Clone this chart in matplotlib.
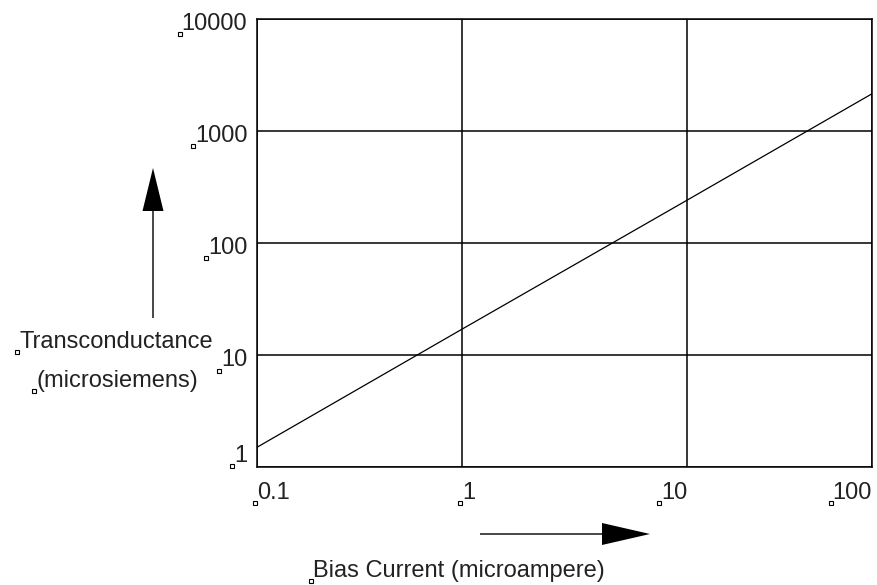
import numpy as np
import matplotlib
matplotlib.use("Agg")
import matplotlib.pyplot as plt
from matplotlib.patches import FancyArrow
from matplotlib.transforms import ScaledTranslation

# ---- data ----
bias_current = [0.1, 1, 10, 100]            # microampere
transconductance = [1.5, 17, 241, 2150]     # microsiemens
x_ticks = [0.1, 1, 10, 100]
x_tick_labels = ["0.1", "1", "10", "100"]
y_ticks = [1, 10, 100, 1000, 10000]
y_tick_labels = ["1", "10", "100", "1000", "10000"]
x_label = "Bias Current (microampere)"
y_label_lines = ["Transconductance", "(microsiemens)"]

# the reference x axis has uneven decade widths
decade_log = [-1, 0, 1, 2]
decade_frac = [0.0, 0.3333, 0.6992, 1.0]

def fwd(x):
    x = np.asarray(x, dtype=float)
    with np.errstate(divide="ignore", invalid="ignore"):
        lx = np.log10(np.clip(x, 1e-12, None))
    return np.interp(lx, decade_log, decade_frac)

def inv(v):
    v = np.asarray(v, dtype=float)
    return 10 ** np.interp(v, decade_frac, decade_log)

plt.rcParams["font.family"] = ["Liberation Sans", "DejaVu Sans"]
W, H = 878, 585
fig = plt.figure(figsize=(W / 100, H / 100), dpi=100)
ax = fig.add_axes([257 / W, (H - 467) / H, 615 / W, 448 / H])

ax.set_xscale("function", functions=(fwd, inv))
ax.set_yscale("log")
ax.set_xlim(0.1, 100)
ax.set_ylim(1, 10000)

ax.plot(bias_current, transconductance, color="black", lw=0.9)

ax.set_xticks(x_ticks)
ax.set_xticklabels(x_tick_labels)
ax.set_yticks(y_ticks)
ax.set_yticklabels(y_tick_labels)
ax.xaxis.set_minor_locator(matplotlib.ticker.NullLocator())
ax.yaxis.set_minor_locator(matplotlib.ticker.NullLocator())
ax.tick_params(axis="both", length=0, labelsize=17, colors="#222222")
ax.tick_params(axis="x", pad=11)
ax.tick_params(axis="y", pad=7)
ax.grid(True, color="black", lw=1.1)
for s in ax.spines.values():
    s.set_linewidth(1.1)
    s.set_color("black")

xl = ax.get_xticklabels()
for lab, ha in zip(xl, ["left", "left", "right", "right"]):
    lab.set_ha(ha)
yl = ax.get_yticklabels()
yl[0].set_va("bottom")
shift = ScaledTranslation(0, -0.03, fig.dpi_scale_trans)
for lab in yl[1:]:
    lab.set_transform(lab.get_transform() + shift)

# axis titles
fig.text(116 / W, (H - 348) / H, y_label_lines[0], ha="center", va="baseline",
         fontsize=17, color="#222222")
fig.text(117 / W, (H - 387) / H, y_label_lines[1], ha="center", va="baseline",
         fontsize=17, color="#222222")
fig.text(313 / W, (H - 577) / H, x_label, ha="left", va="baseline",
         fontsize=17, color="#222222")

# arrows
fig.add_artist(FancyArrow(1.53, 2.67, 0, 1.50, width=0.014, head_width=0.21,
                          head_length=0.43, length_includes_head=True,
                          color="black", lw=0, transform=fig.dpi_scale_trans))
fig.add_artist(FancyArrow(4.80, 0.51, 1.70, 0, width=0.014, head_width=0.22,
                          head_length=0.48, length_includes_head=True,
                          color="black", lw=0, transform=fig.dpi_scale_trans))

# small anchor squares at lower-left of each text
fig.canvas.draw()
r = fig.canvas.get_renderer()
texts = list(ax.get_xticklabels()) + list(ax.get_yticklabels()) + list(fig.texts)
px, py = [], []
for t in texts:
    bb = t.get_window_extent(r)
    px.append(bb.x0 - 2)
    py.append(bb.y0 + 1)
fig.add_artist(plt.Line2D(np.array(px) / W, np.array(py) / H, ls="none",
                          marker="s", ms=3.4, mfc="white", mec="black",
                          mew=0.8, transform=fig.transFigure))

fig.savefig("out.png", dpi=100, facecolor="white")
